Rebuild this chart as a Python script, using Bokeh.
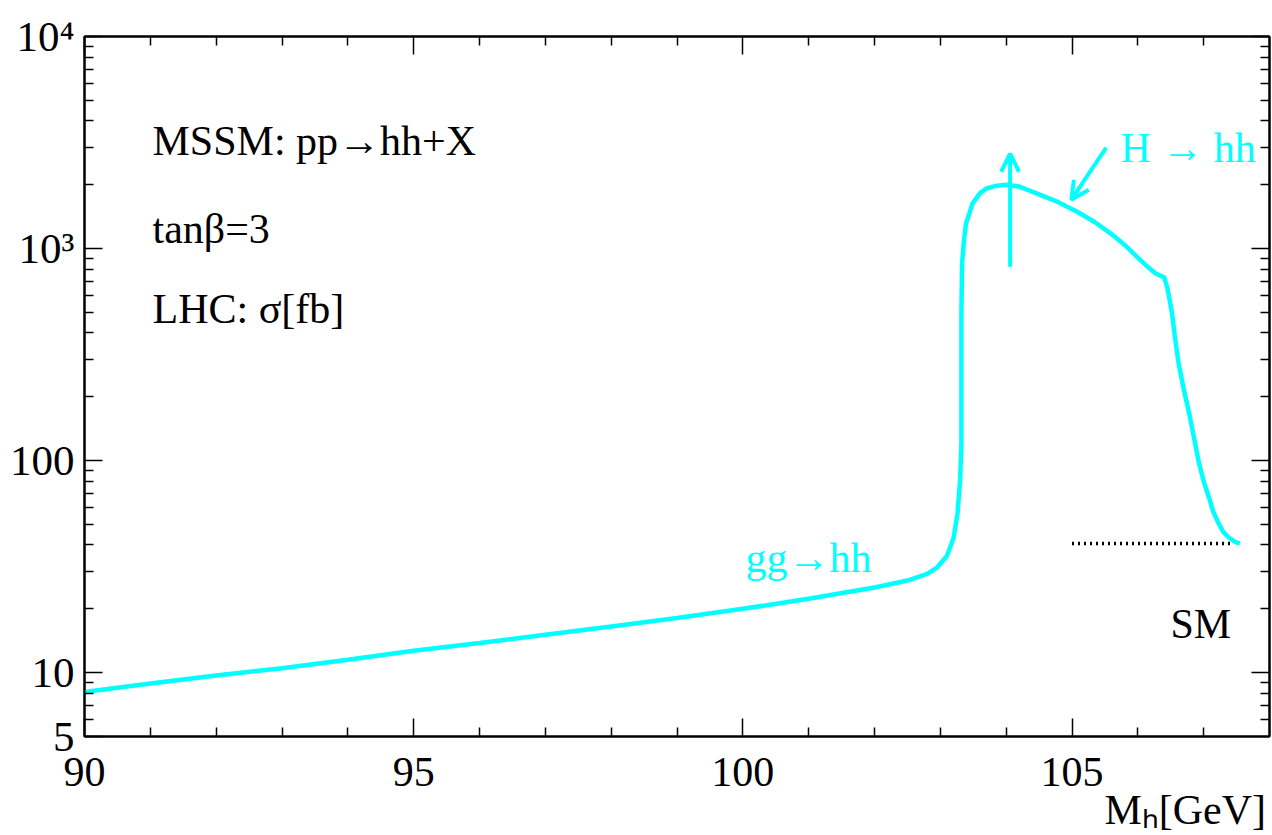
from bokeh.plotting import figure
from bokeh.models import (FixedTicker, LinearAxis, LogAxis, Label, Arrow, OpenHead,
                          CustomJSTickFormatter, AllLabels)
from bokeh.embed import file_html
from bokeh.resources import INLINE

# ---- data ----
mh = [90, 91, 92, 93, 94, 95, 96, 97, 98, 99, 100, 101, 102, 102.5, 102.8, 102.95,
      103.1, 103.2, 103.26, 103.3, 103.32, 103.32, 103.32, 103.33, 103.36, 103.39,
      103.49, 103.6, 103.7, 103.86, 104.0, 104.2, 104.5, 104.8, 105.1, 105.35, 105.6,
      105.8, 106.0, 106.15, 106.27, 106.4, 106.45, 106.48, 106.52, 106.56, 106.62,
      106.70, 106.78, 106.86, 106.93, 107.0, 107.08, 107.15, 107.23, 107.3, 107.38,
      107.47, 107.55]
sigma = [8.1, 8.9, 9.7, 10.5, 11.5, 12.7, 13.8, 15.1, 16.5, 18.1, 20.0, 22.3, 25.2, 27.2,
         29.2, 31.3, 35.5, 43, 56, 80, 120, 240, 494, 850, 1100, 1310, 1630, 1820, 1920,
         1980, 2000, 1960, 1800, 1650, 1480, 1330, 1170, 1040, 906, 820, 763, 731, 650,
         580, 493, 390, 287, 215, 167, 125, 97, 80, 67, 57, 50.4, 46, 43.4, 41.5, 40.6]
sm_x = [105.0, 107.4]
sm_y = [40.6, 40.6]
arrow_up = [104.06, 820, 104.06, 2800]      # x0, y0, x1, y1
arrow_hh = [105.52, 2990, 104.99, 1700]

x_major = [90, 95, 100, 105]
x_minor = [v for v in range(91, 108) if v not in x_major]
x_label_ticks = [90, 95, 100, 105, 106.72]
x_label_text = ["90", "95", "100", "105", "\nM\u2095[GeV]"]
y_major = [5, 10, 100, 1000, 10000]
y_minor = [6, 7, 8, 9] + [20, 30, 40, 50, 60, 70, 80, 90] + \
          [200, 300, 400, 500, 600, 700, 800, 900] + \
          [2000, 3000, 4000, 5000, 6000, 7000, 8000, 9000]
y_label_text = ["5", "10", "100", "10\u00b3", "10\u2074"]

CYAN = "#00FFFF"
FONT = "Liberation Serif"

p = figure(width=1272, height=835, x_range=(90, 108), y_range=(5, 1e4),
           y_axis_type="log", output_backend="svg", toolbar_location=None,
           min_border_left=84, min_border_right=3, min_border_top=36,
           min_border_bottom=99, background_fill_color="white",
           border_fill_color="white", outline_line_color="black",
           outline_line_width=2)
p.grid.visible = False

def style_axis(ax):
    ax.axis_line_width = 2
    ax.axis_line_color = "black"
    ax.major_tick_in = 18
    ax.major_tick_out = 0
    ax.minor_tick_in = 9
    ax.minor_tick_out = 0
    ax.major_tick_line_color = "black"
    ax.minor_tick_line_color = "black"
    ax.major_tick_line_width = 1.5
    ax.minor_tick_line_width = 1.5

def blank():
    return CustomJSTickFormatter(code="return ''")

def mapped(ticks, texts):
    return CustomJSTickFormatter(args=dict(t=ticks, s=texts), code="""
        for (let i = 0; i < t.length; i++) {
            if (Math.abs(t[i] - tick) <= 1e-6 * Math.abs(t[i])) { return s[i]; }
        }
        return '';
    """)

# bottom axis: ticks only
xax = p.xaxis[0]
xax.ticker = FixedTicker(ticks=x_major, minor_ticks=x_minor)
style_axis(xax)
xax.formatter = blank()
xax.major_label_standoff = 0
xax.major_label_text_font_size = "1px"

# second bottom axis: labels only (tick numbers and M_h[GeV])
xlab = LinearAxis(ticker=FixedTicker(ticks=x_label_ticks, minor_ticks=[]),
                  formatter=mapped(x_label_ticks, x_label_text),
                  axis_line_color=None, major_tick_line_color=None,
                  minor_tick_line_color=None, major_tick_in=0, major_tick_out=0,
                  minor_tick_in=0, minor_tick_out=0,
                  major_label_standoff=12, major_label_text_font=FONT,
                  major_label_text_font_size="42px", major_label_text_color="black",
                  major_label_text_line_height=0.83, major_label_policy=AllLabels())
p.add_layout(xlab, "below")

yax = p.yaxis[0]
yax.ticker = FixedTicker(ticks=y_major, minor_ticks=y_minor)
style_axis(yax)
yax.formatter = mapped(y_major, y_label_text)
yax.major_label_standoff = 10
yax.major_label_text_font = FONT
yax.major_label_text_font_size = "43px"
yax.major_label_text_color = "black"
yax.major_label_policy = AllLabels()

top = LinearAxis(ticker=FixedTicker(ticks=x_major, minor_ticks=x_minor), formatter=blank(),
                 major_label_standoff=0, major_label_text_font_size="1px")
style_axis(top)
p.add_layout(top, "above")
right = LogAxis(ticker=FixedTicker(ticks=y_major[1:], minor_ticks=y_minor), formatter=blank(),
                major_label_standoff=0, major_label_text_font_size="1px")
style_axis(right)
p.add_layout(right, "right")

# curves
p.line(mh, sigma, line_color=CYAN, line_width=4.5)
p.line(sm_x, sm_y, line_color="black", line_width=3.5, line_dash="2 4")

# arrows
for a in (arrow_up, arrow_hh):
    p.add_layout(Arrow(end=OpenHead(size=18, line_color=CYAN, line_width=4),
                       x_start=a[0], y_start=a[1], x_end=a[2], y_end=a[3],
                       line_color=CYAN, line_width=4))

# labels placed relative to the frame's top-left corner (pixels)
def lab(text, px, py, size=42, color="black", align="left"):
    p.add_layout(Label(x=90, y=1e4, x_offset=px - 84, y_offset=36 - py, text=text,
                       text_font=FONT, text_font_size=f"{size}px", text_color=color,
                       text_align=align, text_baseline="alphabetic"))

lab("MSSM: pp\u2192hh+X", 152, 140)
lab("tan\u03b2=3", 152, 228)
lab("LHC: \u03c3[fb]", 152, 308)
lab("gg\u2192hh", 745, 557, color=CYAN)
lab("H \u2192 hh", 1120, 147, color=CYAN)
lab("SM", 1170, 623)

open("out.html", "w").write(file_html(p, INLINE))
